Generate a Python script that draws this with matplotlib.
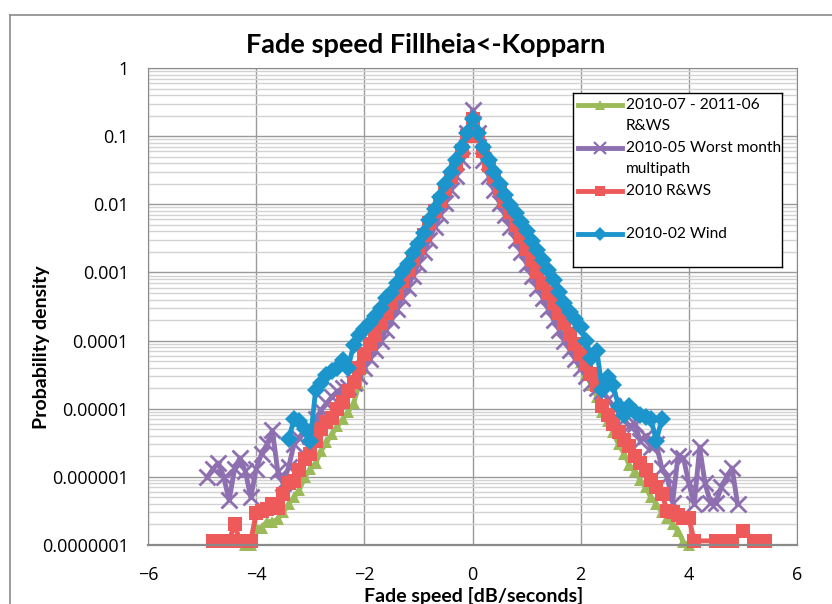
import numpy as np
import matplotlib
matplotlib.use("Agg")
import matplotlib.pyplot as plt
from matplotlib.ticker import FixedLocator, LogLocator, NullFormatter
from matplotlib.lines import Line2D

plt.rcParams['font.family'] = ['Lato', 'DejaVu Sans']

# fade speed bins [dB/s]
speed = [-4.9, -4.8, -4.7, -4.6, -4.5, -4.4, -4.3, -4.2, -4.1, -4.0,
         -3.9, -3.8, -3.7, -3.6, -3.5, -3.4, -3.3, -3.2, -3.1, -3.0,
         -2.9, -2.8, -2.7, -2.6, -2.5, -2.4, -2.3, -2.2, -2.1, -2.0,
         -1.9, -1.8, -1.7, -1.6, -1.5, -1.4, -1.3, -1.2, -1.1, -1.0,
         -0.9, -0.8, -0.7, -0.6, -0.5, -0.4, -0.3, -0.2, -0.1, 0.0,
         0.1, 0.2, 0.3, 0.4, 0.5, 0.6, 0.7, 0.8, 0.9, 1.0,
         1.1, 1.2, 1.3, 1.4, 1.5, 1.6, 1.7, 1.8, 1.9, 2.0,
         2.1, 2.2, 2.3, 2.4, 2.5, 2.6, 2.7, 2.8, 2.9, 3.0,
         3.1, 3.2, 3.3, 3.4, 3.5, 3.6, 3.7, 3.8, 3.9, 4.0,
         4.1, 4.2, 4.3, 4.4, 4.5, 4.6, 4.7, 4.8, 4.9, 5.0,
         5.1, 5.2, 5.3, 5.4]

# 2010-07 - 2011-06 R&WS
year_rws = [None, None, None, None, None, None, None, 1.0e-7, 1.0e-7, 1.8e-7,
            1.8e-7, 2.2e-7, 2.2e-7, 2.4e-7, 3.0e-7, 4.0e-7, 5.0e-7, 6.5e-7, 1.0e-6, 1.3e-6,
            1.6e-6, 2.4e-6, 3.2e-6, 4.2e-6, 5.5e-6, 7.0e-6, 9.0e-6, 1.2e-5, 2.2e-5, 4.0e-5,
            7.5e-5, 1.1e-4, 1.6e-4, 2.3e-4, 3.3e-4, 4.7e-4, 7.0e-4, 1.0e-3, 1.5e-3, 2.2e-3,
            3.3e-3, 5.1e-3, 7.5e-3, 1.05e-2, 1.6e-2, 2.4e-2, 3.7e-2, 5.8e-2, 0.097, 0.175,
            0.097, 0.058, 0.037, 0.024, 0.016, 0.0107, 0.0072, 0.0047, 0.0031, 0.0021,
            1.4e-3, 9.5e-4, 6.6e-4, 4.6e-4, 3.2e-4, 2.3e-4, 1.6e-4, 1.1e-4, 7.5e-5, 4.8e-5,
            3.2e-5, 2.2e-5, 1.5e-5, 9.0e-6, 6.5e-6, 4.5e-6, 3.0e-6, 2.2e-6, 1.5e-6, 1.2e-6,
            9.0e-7, 7.0e-7, 5.0e-7, 4.0e-7, 3.0e-7, 2.5e-7, 2.0e-7, 1.6e-7, 1.1e-7, 1.0e-7,
            None, None, None, None, None, None, None, None, None, None,
            None, None, None, None]

# 2010-05 worst month multipath
worst_month = [1.0e-6, 1.3e-6, 1.6e-6, 1.0e-6, 4.5e-7, 1.3e-6, 1.9e-6, 1.2e-6, 5.0e-7, 1.3e-6,
               2.2e-6, 3.0e-6, 4.8e-6, 1.2e-6, 8.0e-7, 1.4e-6, 3.0e-6, 3.7e-6, 5.0e-6, 4.0e-6,
               7.0e-6, 9.5e-6, 1.2e-5, 1.5e-5, 1.8e-5, 2.0e-5, 2.1e-5, 2.4e-5, 3.0e-5, 4.0e-5,
               5.3e-5, 7.3e-5, 1.0e-4, 1.45e-4, 2.0e-4, 2.9e-4, 4.2e-4, 6.0e-4, 9.0e-4, 1.35e-3,
               2.0e-3, 3.0e-3, 4.7e-3, 7.0e-3, 1.05e-2, 1.6e-2, 2.6e-2, 4.5e-2, 0.11, 0.24,
               0.11, 0.045, 0.026, 0.016, 0.0105, 0.007, 0.0047, 0.003, 0.002, 1.35e-3,
               9.0e-4, 6.0e-4, 4.2e-4, 2.9e-4, 2.0e-4, 1.45e-4, 1.0e-4, 7.3e-5, 5.3e-5, 4.0e-5,
               3.0e-5, 2.4e-5, 2.0e-5, 1.8e-5, 1.4e-5, 1.1e-5, 9.0e-6, 7.0e-6, 5.5e-6, 6.0e-6,
               3.4e-6, 4.0e-6, 2.7e-6, 3.0e-6, 1.35e-6, 1.0e-6, 4.2e-7, 2.0e-6, 1.9e-6, 8.0e-7,
               4.0e-7, 2.7e-6, 8.0e-7, 4.2e-7, 4.2e-7, 7.0e-7, 1.0e-6, 1.35e-6, 4.0e-7, None,
               None, None, None, None]

# 2010 R&WS
rws_2010 = [None, 1.15e-7, 1.15e-7, None, 1.15e-7, 2.0e-7, 1.15e-7, 1.15e-7, 1.15e-7, 2.9e-7,
            3.2e-7, 3.4e-7, 4.0e-7, 3.5e-7, 5.6e-7, 8.0e-7, 8.7e-7, 1.26e-6, 1.8e-6, 2.2e-6,
            3.4e-6, 5.0e-6, 6.3e-6, 7.4e-6, 1.0e-5, 1.26e-5, 1.8e-5, 2.5e-5, 4.0e-5, 6.3e-5,
            8.9e-5, 1.2e-4, 1.8e-4, 2.5e-4, 3.5e-4, 5.0e-4, 7.6e-4, 1.1e-3, 1.6e-3, 2.3e-3,
            3.5e-3, 5.4e-3, 7.9e-3, 1.1e-2, 1.7e-2, 2.5e-2, 3.8e-2, 6.0e-2, 0.10, 0.18,
            0.10, 0.06, 0.038, 0.025, 0.0166, 0.0112, 0.0076, 0.005, 0.0033, 0.0022,
            1.5e-3, 1.0e-3, 7.0e-4, 5.0e-4, 3.5e-4, 2.5e-4, 1.8e-4, 1.26e-4, 8.9e-5, 6.3e-5,
            4.5e-5, 3.2e-5, 2.2e-5, 1.1e-5, 8.0e-6, 6.0e-6, 4.5e-6, 3.5e-6, 2.8e-6, 2.0e-6,
            1.6e-6, 1.26e-6, 9.0e-7, 7.0e-7, 5.6e-7, 3.2e-7, 3.0e-7, 2.8e-7, 2.5e-7, 2.5e-7,
            1.15e-7, None, None, None, 1.15e-7, 1.15e-7, 1.15e-7, 1.15e-7, None, 1.6e-7,
            None, 1.15e-7, 1.15e-7, 1.15e-7]

# 2010-02 wind
wind = [None, None, None, None, None, None, None, None, None, None,
        None, None, None, None, None, 3.6e-6, 7.0e-6, 6.6e-6, 5.0e-6, 3.4e-6,
        1.9e-5, 2.4e-5, 3.1e-5, 3.6e-5, 4.0e-5, 5.1e-5, 4.0e-5, 8.5e-5, 1.2e-4, 1.5e-4,
        1.8e-4, 2.3e-4, 3.0e-4, 4.2e-4, 5.0e-4, 7.0e-4, 1.0e-3, 1.35e-3, 1.9e-3, 2.6e-3,
        3.8e-3, 5.8e-3, 8.6e-3, 1.3e-2, 2.0e-2, 3.0e-2, 4.5e-2, 7.0e-2, 0.11, 0.18,
        0.11, 0.07, 0.045, 0.03, 0.02, 0.0135, 0.0098, 0.0075, 0.0055, 0.004,
        2.9e-3, 2.1e-3, 1.5e-3, 1.1e-3, 7.8e-4, 5.2e-4, 3.6e-4, 2.6e-4, 2.1e-4, 1.6e-4,
        1.0e-4, 5.5e-5, 7.0e-5, 1.9e-5, 2.9e-5, 2.2e-5, 1.1e-5, 8.0e-6, 1.1e-5, 9.0e-6,
        8.0e-6, 7.5e-6, 7.0e-6, 3.4e-6, 7.0e-6, None, None, None, None, None,
        None, None, None, None, None, None, None, None, None, None,
        None, None, None, None]

labels = [["2010-07 - 2011-06", "R&WS"], ["2010-05 Worst month", "multipath"],
          ["2010 R&WS"], ["2010-02 Wind"]]
x_ticks = [-6, -4, -2, 0, 2, 4, 6]
y_ticks = [1e-7, 1e-6, 1e-5, 1e-4, 1e-3, 1e-2, 1e-1, 1]
y_labels = ["0.0000001", "0.000001", "0.00001", "0.0001", "0.001", "0.01", "0.1", "1"]

# colour, marker, marker size
styles = [("#9BBB59", "^", 9),
          ("#8E6FB0", "x", 11),
          ("#EE5A5A", "s", 10.5),
          ("#1B95CC", "D", 9)]

fig = plt.figure(figsize=(8.32, 6.04), dpi=100)

# outer chart border
fig.add_artist(Line2D([10 / 832, 10 / 832], [0, 1 - 15 / 604], color="#8a8a8a", lw=1.2))
fig.add_artist(Line2D([10 / 832, 1], [1 - 15 / 604, 1 - 15 / 604], color="#8a8a8a", lw=1.2))

ax = fig.add_axes([148 / 832, 1 - 545 / 604, 649 / 832, 477 / 604])

x = np.array(speed)
for vals, (c, mk, ms) in zip([year_rws, worst_month, rws_2010, wind], styles):
    y = np.array(vals, dtype=float)
    m = ~np.isnan(y)
    ax.plot(x[m], y[m], color=c, lw=3.5, marker=mk, ms=ms, mew=2 if mk == "x" else 0,
            mec=c, clip_on=False)

ax.set_yscale("log")
ax.set_xlim(-6, 6)
ax.set_ylim(1e-7, 1)
ax.xaxis.set_major_locator(FixedLocator(x_ticks))
ax.set_yticks(y_ticks)
ax.set_yticklabels(y_labels)
ax.yaxis.set_minor_locator(LogLocator(base=10, subs=range(2, 10)))
ax.yaxis.set_minor_formatter(NullFormatter())
ax.grid(which="major", color="#9a9a9a", lw=1)
ax.grid(which="minor", axis="y", color="#d2d2d2", lw=1)
ax.set_axisbelow(True)
ax.tick_params(which="both", length=0)
ax.tick_params(axis="y", pad=14)
ax.tick_params(axis="x", pad=15)
for lab in ax.get_xticklabels() + ax.get_yticklabels():
    lab.set_fontfamily(["Open Sans", "DejaVu Sans"])
    lab.set_fontsize(13)
for s in ax.spines.values():
    s.set_color("#8a8a8a")
ax.spines["bottom"].set_linewidth(1.6)

fig.text(426 / 832, 1 - 45 / 604, "Fade speed Fillheia<-Kopparn", ha="center", va="center",
         fontsize=19.5, fontweight="bold")
fig.text(42 / 832, 1 - 347 / 604, "Probability density", ha="center", va="center",
         rotation=90, fontsize=14, fontweight="bold")
fig.text(474 / 832, 1 - 596 / 604, "Fade speed [dB/seconds]", ha="center", va="center",
         fontsize=14, fontweight="bold")

# legend box, drawn in pixel-like coordinates
leg = fig.add_axes([573 / 832, 1 - 267 / 604, 209 / 832, 174 / 604])
leg.set_xlim(573, 782)
leg.set_ylim(267, 93)
leg.set_xticks([])
leg.set_yticks([])
for s in leg.spines.values():
    s.set_color("black")
    s.set_linewidth(1)
rows = [105, 148, 191, 234]
for (c, mk, ms), lab, yy in zip(styles, labels, rows):
    leg.plot([578, 622], [yy, yy], color=c, lw=3.5)
    leg.plot([600], [yy], color=c, marker=mk, ms=ms * 0.75, mew=1.6 if mk == "x" else 0, mec=c)
    for k, line in enumerate(lab):
        leg.text(626, yy + 21 * k, line, va="center", ha="left", fontsize=11.2)

fig.savefig("out.png", dpi=100)
